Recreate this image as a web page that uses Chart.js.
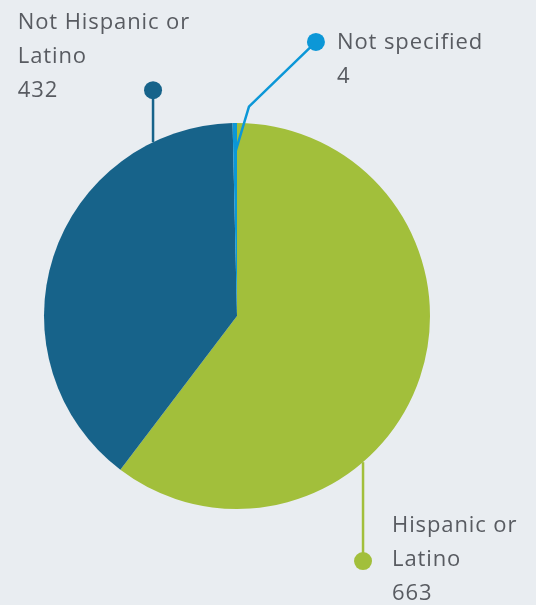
<!DOCTYPE html>
<html>
<head>
<meta charset="utf-8">
<script src="https://cdn.jsdelivr.net/npm/chart.js@4"></script>
<style>
  html, body { margin: 0; padding: 0; background: #e9edf1; }
  #wrap { width: 536px; height: 605px; position: relative; }
</style>
</head>
<body>
<div id="wrap"><canvas id="pieChart" width="536" height="605"></canvas></div>
<script>
// dados do gráfico
const categories = ["Hispanic or Latino", "Not Hispanic or Latino", "Not specified"];
const values = [663, 432, 4];
const labelLines = [["Hispanic or", "Latino"], ["Not Hispanic or", "Latino"], ["Not specified"]];
const colors = ["#a2bf3b", "#17638a", "#0c97d7"];

const textColor = "#585b61";
const labelFont = "22px 'Open Sans', 'DejaVu Sans', sans-serif";
const lineHeight = 34;

// desenha as linhas de chamada, os pontos e os rótulos
const calloutPlugin = {
    id: "callouts",
    afterDraw(chart) {
        const ctx = chart.ctx;
        const arcs = chart.getDatasetMeta(0).data;
        const cx = arcs[0].x, cy = arcs[0].y, r = arcs[0].outerRadius;

        function dot(x, y, color) {
            ctx.beginPath();
            ctx.arc(x, y, 9, 0, Math.PI * 2);
            ctx.fillStyle = color;
            ctx.fill();
        }
        function text(lines, x, y) {
            ctx.font = labelFont;
            ctx.letterSpacing = "0.9px";
            ctx.fillStyle = textColor;
            ctx.textAlign = "left";
            ctx.textBaseline = "middle";
            lines.forEach((t, i) => ctx.fillText(t, x, y + i * lineHeight));
        }

        ctx.save();
        ctx.lineWidth = 2.5;

        // Hispanic or Latino - linha vertical para baixo
        let lx = cx + 0.653 * r;
        let ly = cy + Math.sqrt(r * r - (lx - cx) * (lx - cx));
        let dy = cy + 1.27 * r;
        ctx.strokeStyle = colors[0];
        ctx.beginPath(); ctx.moveTo(lx, ly); ctx.lineTo(lx, dy); ctx.stroke();
        dot(lx, dy, colors[0]);
        text(labelLines[0].concat([String(values[0])]), lx + 29, dy - lineHeight - 1);

        // Not Hispanic or Latino - linha vertical para cima
        lx = cx - 0.435 * r;
        ly = cy - Math.sqrt(r * r - (lx - cx) * (lx - cx));
        dy = cy - 1.17 * r;
        ctx.strokeStyle = colors[1];
        ctx.beginPath(); ctx.moveTo(lx, ly); ctx.lineTo(lx, dy); ctx.stroke();
        dot(lx, dy, colors[1]);
        text(labelLines[1].concat([String(values[1])]), cx - 1.136 * r, dy - 2 * lineHeight + 1);

        // Not specified - linha quebrada
        const a = arcs[2];
        const mid = (a.startAngle + a.endAngle) / 2;
        const sx = cx + Math.cos(mid) * r * 0.845;
        const sy = cy + Math.sin(mid) * r * 0.845;
        const bx = cx + 0.062 * r, by = cy - 1.085 * r;
        const ex = cx + 0.409 * r, ey = cy - 1.42 * r;
        ctx.strokeStyle = colors[2];
        ctx.beginPath(); ctx.moveTo(sx, sy); ctx.lineTo(bx, by); ctx.lineTo(ex, ey); ctx.stroke();
        dot(ex, ey, colors[2]);
        text(labelLines[2].concat([String(values[2])]), ex + 21, ey + 1);

        ctx.restore();
    }
};

const ctx = document.getElementById("pieChart").getContext("2d");
window.pieChart = new Chart(ctx, {
    type: "pie",
    data: {
        labels: categories,
        datasets: [{
            data: values,
            backgroundColor: colors,
            borderWidth: 0
        }]
    },
    options: {
        responsive: false,
        animation: false,
        layout: { padding: { left: 44, right: 106, top: 123, bottom: 96 } },
        plugins: {
            legend: { display: false },
            tooltip: { enabled: false }
        }
    },
    plugins: [calloutPlugin]
});
</script>
</body>
</html>
